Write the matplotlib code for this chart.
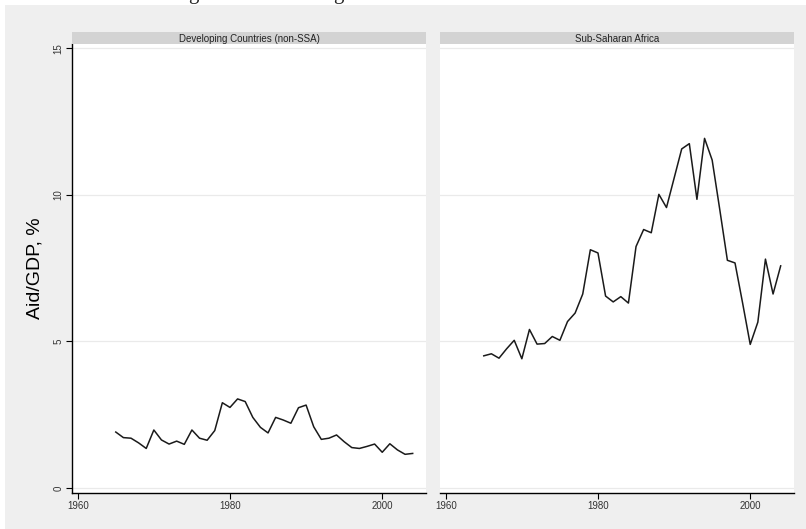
import matplotlib
matplotlib.use("Agg")
import matplotlib.pyplot as plt
from matplotlib.patches import Rectangle

years = list(range(1965, 2005))
non_ssa = [1.91, 1.72, 1.70, 1.54, 1.35, 1.98, 1.64, 1.50, 1.60, 1.49,
           1.98, 1.70, 1.63, 1.96, 2.91, 2.75, 3.04, 2.95, 2.41, 2.07,
           1.88, 2.41, 2.32, 2.21, 2.74, 2.83, 2.09, 1.66, 1.70, 1.81,
           1.58, 1.38, 1.35, 1.42, 1.50, 1.22, 1.51, 1.30, 1.15, 1.18]
ssa = [4.51, 4.58, 4.43, 4.75, 5.04, 4.41, 5.41, 4.91, 4.93, 5.17,
       5.04, 5.68, 5.97, 6.62, 8.13, 8.02, 6.55, 6.35, 6.53, 6.31,
       8.24, 8.82, 8.71, 10.02, 9.57, 10.57, 11.57, 11.75, 9.85, 11.93,
       11.19, 9.50, 7.77, 7.68, 6.31, 4.90, 5.66, 7.81, 6.62, 7.58]
panel_titles = ["Developing Countries (non-SSA)", "Sub-Saharan Africa"]
xticks = [1960, 1980, 2000]
yticks = [0, 5, 10, 15]
ylabel = "Aid/GDP, %"

W, H = 806, 529
fig = plt.figure(figsize=(W / 100, H / 100), dpi=100, facecolor="white")
fig.patches.append(Rectangle((5 / W, 0), 1 - 5 / W, 1 - 5 / H,
                             transform=fig.transFigure, facecolor="#efefef",
                             edgecolor="none", zorder=-10))

font = "Liberation Sans"

def fx(px):
    return px / W

def fy(py):
    return 1 - py / H

panels = [(72, 426), (440, 794)]
top, bot = 44, 493
series = [non_ssa, ssa]

for i, ((x0, x1), vals, title) in enumerate(zip(panels, series, panel_titles)):
    ax = fig.add_axes([fx(x0), fy(bot), fx(x1 - x0), (bot - top) / H])
    ax.set_facecolor("white")
    ax.plot(years, vals, color="#1a1a1a", lw=1.1)
    ax.set_xlim(1959.25, 2005.75)
    ax.set_ylim(-0.17, 15.15)
    for y in yticks:
        ax.axhline(y, color="#eaeaea", lw=0.9, zorder=0)
    ax.set_xticks(xticks)
    ax.set_xticklabels([str(t) for t in xticks], fontsize=7, family=font,
                       color="#333333")
    ax.tick_params(axis="x", length=4, width=0.8, pad=1.5)
    for s in ["top", "right"]:
        ax.spines[s].set_visible(False)
    ax.spines["bottom"].set_linewidth(1.0)
    if i == 0:
        ax.set_yticks(yticks)
        ax.set_yticklabels([str(t) for t in yticks], fontsize=7, family=font,
                           rotation=90, va="center", color="#333333")
        ax.tick_params(axis="y", length=4, width=0.8, pad=2)
        ax.spines["left"].set_linewidth(1.0)
        ax.set_ylabel(ylabel, fontsize=14, family=font, labelpad=7)
    else:
        ax.set_yticks(yticks)
        ax.tick_params(axis="y", left=False, labelleft=False)
        ax.spines["left"].set_visible(False)
    # strip
    sax = fig.add_axes([fx(x0), fy(top), fx(x1 - x0), 12 / H])
    sax.set_facecolor("#d3d3d3")
    sax.set_xticks([])
    sax.set_yticks([])
    for s in sax.spines.values():
        s.set_visible(False)
    sax.text(0.5, 0.45, title, ha="center", va="center", fontsize=7,
             family=font, color="#222222", transform=sax.transAxes)

# descenders of a cut-off heading above the figure
for gx in (193, 338):
    fig.text(fx(gx), fy(-1.5), "g", ha="center", va="baseline", fontsize=15,
             family="Liberation Serif", color="#222222")

fig.savefig("out.png", dpi=100, facecolor=fig.get_facecolor())
